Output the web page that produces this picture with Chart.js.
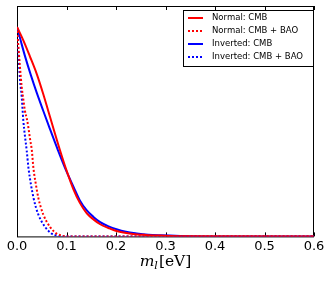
<!DOCTYPE html>
<html lang="en">
  <head>
    <meta charset="UTF-8" />
    <title>Lightest neutrino mass posterior</title>
    <script src="https://cdn.jsdelivr.net/npm/chart.js@4.4.0/dist/chart.umd.min.js"></script>
    <style>
      html, body { margin: 0; padding: 0; background: #fff; }
      #wrap { width: 332px; height: 285px; }
    </style>
  </head>
  <body>
    <div id="wrap"><canvas id="myChart" width="332" height="285"></canvas></div>

    <script>
      // lightest neutrino mass m_l [eV] and normalised posterior
      const massNormalCmb = [0, 0.013, 0.026, 0.04, 0.053, 0.063, 0.073, 0.087, 0.1, 0.114, 0.127, 0.141, 0.155, 0.168, 0.185, 0.201, 0.234, 0.26, 0.289, 0.33, 0.6];
      const probNormalCmb = [1, 0.935, 0.86, 0.775, 0.68, 0.6, 0.52, 0.41, 0.315, 0.225, 0.16, 0.11, 0.08, 0.058, 0.04, 0.026, 0.012, 0.007, 0.004, 0.001, 0];

      const massNormalBao = [0, 0.003, 0.006, 0.0095, 0.013, 0.016, 0.02, 0.023, 0.026, 0.03, 0.033, 0.038, 0.043, 0.048, 0.053, 0.06, 0.067, 0.074, 0.08, 0.09, 0.1, 0.6];
      const probNormalBao = [1, 0.9, 0.81, 0.714, 0.65, 0.6, 0.56, 0.52, 0.47, 0.41, 0.33, 0.25, 0.185, 0.14, 0.105, 0.07, 0.044, 0.025, 0.013, 0.004, 0, 0];

      const massInvertedCmb = [0, 0.008, 0.016, 0.028, 0.04, 0.053, 0.067, 0.083, 0.1, 0.114, 0.127, 0.141, 0.155, 0.168, 0.185, 0.201, 0.22, 0.242, 0.265, 0.289, 0.33, 0.4, 0.6];
      const probInvertedCmb = [1, 0.93, 0.862, 0.77, 0.685, 0.6, 0.51, 0.41, 0.31, 0.238, 0.172, 0.124, 0.092, 0.068, 0.048, 0.034, 0.022, 0.014, 0.008, 0.005, 0.002, 0, 0];

      const massInvertedBao = [0, 0.0026, 0.006, 0.0095, 0.0127, 0.016, 0.0196, 0.023, 0.028, 0.033, 0.038, 0.043, 0.05, 0.057, 0.064, 0.07, 0.078, 0.087, 0.6];
      const probInvertedBao = [1, 0.89, 0.75, 0.667, 0.555, 0.48, 0.41, 0.33, 0.25, 0.188, 0.14, 0.105, 0.07, 0.044, 0.025, 0.013, 0.005, 0, 0];

      const xTicks = [0, 0.1, 0.2, 0.3, 0.4, 0.5, 0.6];

      function pairs(xs, ys) {
        return xs.map((x, i) => ({ x: x, y: ys[i] }));
      }

      // black frame with inward ticks on top and bottom (matplotlib classic look)
      const frame = {
        id: 'frame',
        beforeDatasetsDraw(chart) {
          const { ctx, chartArea: a, scales } = chart;
          ctx.save();
          ctx.strokeStyle = '#000';
          ctx.lineWidth = 1;
          ctx.strokeRect(a.left + 0.5, a.top + 0.5, a.right - a.left - 1, a.bottom - a.top);
          xTicks.forEach(t => {
            const px = Math.round(scales.x.getPixelForValue(t)) + 0.5;
            ctx.beginPath();
            ctx.moveTo(px, a.bottom);
            ctx.lineTo(px, a.bottom - 4);
            ctx.moveTo(px, a.top);
            ctx.lineTo(px, a.top + 4);
            ctx.stroke();
          });
          ctx.restore();
        },
        afterDraw(chart) {
          const { ctx, chartArea: a } = chart;
          ctx.save();
          // axis title m_l [eV]
          ctx.fillStyle = '#000';
          ctx.textBaseline = 'alphabetic';
          const y = 266;
          ctx.font = 'italic 15.5px "DejaVu Serif"';
          const wm = ctx.measureText('m').width;
          ctx.font = 'italic 11px "DejaVu Serif"';
          const wl = ctx.measureText('l').width;
          ctx.font = '15.5px "DejaVu Serif"';
          const wr = ctx.measureText('[eV]').width;
          let x = (a.left + a.right) / 2 - (wm + wl + 1 + wr) / 2;
          ctx.font = 'italic 15.5px "DejaVu Serif"';
          ctx.fillText('m', x, y);
          x += wm;
          ctx.font = 'italic 11px "DejaVu Serif"';
          ctx.fillText('l', x, y + 3);
          x += wl + 1;
          ctx.font = '15.5px "DejaVu Serif"';
          ctx.fillText('[eV]', x, y);

          // legend box
          const bx = 183, by = 10, bw = 130, bh = 56;
          ctx.fillStyle = '#fff';
          ctx.fillRect(bx, by, bw, bh);
          ctx.strokeStyle = '#000';
          ctx.lineWidth = 1;
          ctx.strokeRect(bx + 0.5, by + 0.5, bw, bh);
          ctx.font = '8.5px "DejaVu Sans"';
          ctx.textBaseline = 'middle';
          chart.data.datasets.forEach((ds, i) => {
            const ry = by + 8 + i * 13;
            ctx.strokeStyle = ds.borderColor;
            ctx.lineWidth = 2;
            ctx.setLineDash(ds.borderDash || []);
            ctx.beginPath();
            ctx.moveTo(bx + 5, ry);
            ctx.lineTo(bx + 20, ry);
            ctx.stroke();
            ctx.setLineDash([]);
            ctx.fillStyle = '#000';
            ctx.fillText(ds.label, bx + 29, ry);
          });
          ctx.restore();
        }
      };

      const ctx = document.getElementById('myChart').getContext('2d');
      const myChart = new Chart(ctx, {
        type: 'line',
        data: {
          datasets: [
            {
              label: 'Normal: CMB',
              data: pairs(massNormalCmb, probNormalCmb),
              borderColor: '#ff0000',
              borderWidth: 2
            },
            {
              label: 'Normal: CMB + BAO',
              data: pairs(massNormalBao, probNormalBao),
              borderColor: '#ff0000',
              borderWidth: 2,
              borderDash: [2, 2]
            },
            {
              label: 'Inverted: CMB',
              data: pairs(massInvertedCmb, probInvertedCmb),
              borderColor: '#0000ff',
              borderWidth: 2
            },
            {
              label: 'Inverted: CMB + BAO',
              data: pairs(massInvertedBao, probInvertedBao),
              borderColor: '#0000ff',
              borderWidth: 2,
              borderDash: [2, 2]
            }
          ]
        },
        options: {
          responsive: false,
          animation: false,
          elements: {
            point: { radius: 0 },
            line: { cubicInterpolationMode: 'monotone', fill: false }
          },
          layout: { padding: { left: 17, right: 18, top: 6, bottom: 29 } },
          plugins: {
            legend: { display: false },
            tooltip: { enabled: false }
          },
          scales: {
            x: {
              type: 'linear',
              min: 0,
              max: 0.6,
              afterBuildTicks: axis => { axis.ticks = xTicks.map(v => ({ value: v })); },
              ticks: {
                color: '#000',
                padding: 2,
                maxRotation: 0,
                font: { family: 'DejaVu Sans', size: 13 },
                callback: v => v.toFixed(1)
              },
              grid: { display: false, drawTicks: false },
              border: { display: false }
            },
            y: {
              min: 0,
              max: 1.1,
              display: false
            }
          }
        },
        plugins: [frame]
      });
    </script>
  </body>
</html>
